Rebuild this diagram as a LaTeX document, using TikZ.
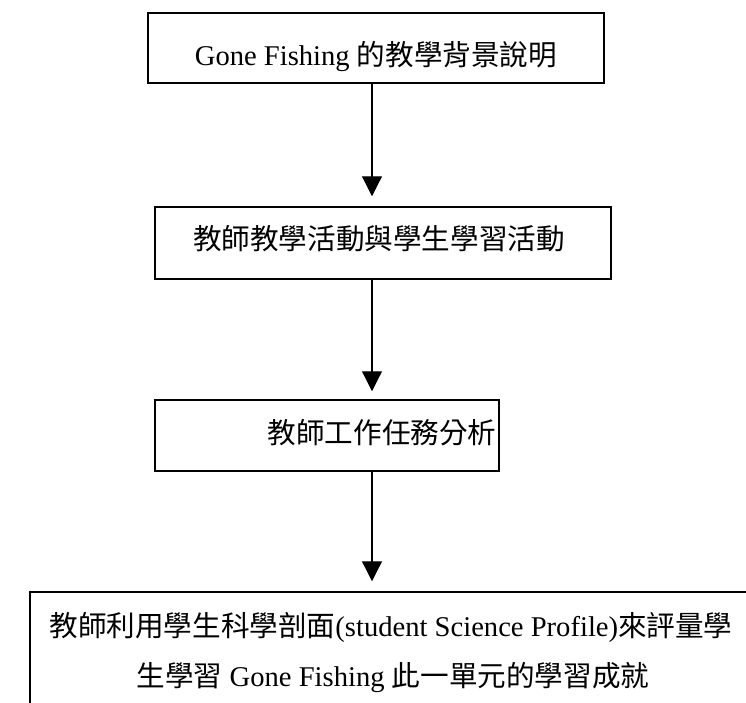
\documentclass[tikz,border=0pt]{standalone}
\usepackage{fontspec}
\setmainfont{Liberation Serif}
\newfontfamily\cjk{Noto Sans CJK TC}
\usetikzlibrary{arrows.meta}
\begin{document}
\begin{tikzpicture}[x=1pt,y=-1pt,
  box/.style={draw=black, line width=1.5pt, rectangle, inner sep=0pt},
  lbl/.style={anchor=base, inner sep=0pt, font=\fontsize{28.6}{34}\selectfont},
  arr/.style={line width=1.2pt, -{Triangle[width=20pt,length=20pt]}}]
\useasboundingbox (0,0) rectangle (746,702);
\clip (0,0) rectangle (746,702);
% boxes
\node[box, minimum width=456pt, minimum height=70pt] (b1) at (376,48) {};
\node[box, minimum width=456pt, minimum height=72pt] (b2) at (383,243) {};
\node[box, minimum width=344pt, minimum height=71pt] (b3) at (327,435.5) {};
\node[box, minimum width=750pt, minimum height=156pt] (b4) at (405,670) {};
% texts
\node[lbl] (t1) at (376,65) {Gone Fishing {\cjk 的教學背景說明}};
\node[lbl] (t2) at (379,249) {\cjk 教師教學活動與學生學習活動};
\node[lbl] (t3) at (382,443) {\cjk 教師工作任務分析};
\node[lbl] (t4a) at (391,636) {{\cjk 教師利用學生科學剖面}(student Science Profile){\cjk 來評量學}};
\node[lbl] (t4b) at (393,686) {{\cjk 生學習} Gone Fishing {\cjk 此一單元的學習成就}};
% connectors
\coordinate (ax) at (372,0);
\draw[arr, shorten >=10pt] (b1.south -| ax) -- (b2.north -| ax);
\draw[arr, shorten >=8pt] (b2.south -| ax) -- (b3.north -| ax);
\draw[arr, shorten >=10pt] (b3.south -| ax) -- (b4.north -| ax);
\end{tikzpicture}
\end{document}
